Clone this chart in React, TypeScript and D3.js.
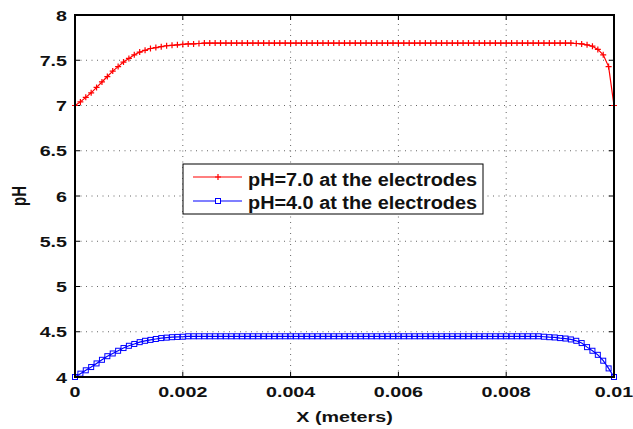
import React from "react";
import * as d3 from "d3";

const xTicks = [0, 0.002, 0.004, 0.006, 0.008, 0.01];
const xTickLabels = ["0", "0.002", "0.004", "0.006", "0.008", "0.01"];
const yTicks = [4, 4.5, 5, 5.5, 6, 6.5, 7, 7.5, 8];
const yTickLabels = ["4", "4.5", "5", "5.5", "6", "6.5", "7", "7.5", "8"];
const xStep = 0.0001;

const seriesNames = ["pH=7.0 at the electrodes", "pH=4.0 at the electrodes"];

const ph7 = [
  7.0, 7.04, 7.09, 7.14, 7.2, 7.26, 7.32, 7.38, 7.43, 7.48,
  7.52, 7.56, 7.59, 7.61, 7.63, 7.64, 7.65, 7.66, 7.665, 7.67,
  7.675, 7.68, 7.68, 7.685,
  7.69, 7.69, 7.69, 7.69, 7.69, 7.69, 7.69, 7.69, 7.69, 7.69,
  7.69, 7.69, 7.69, 7.69, 7.69, 7.69, 7.69, 7.69, 7.69, 7.69,
  7.69, 7.69, 7.69, 7.69, 7.69, 7.69, 7.69, 7.69, 7.69, 7.69,
  7.69, 7.69, 7.69, 7.69, 7.69, 7.69, 7.69, 7.69, 7.69, 7.69,
  7.69, 7.69, 7.69, 7.69, 7.69, 7.69, 7.69, 7.69, 7.69, 7.69,
  7.69, 7.69, 7.69, 7.69, 7.69, 7.69, 7.69, 7.69, 7.69, 7.69,
  7.69, 7.69, 7.69, 7.69, 7.69, 7.69, 7.69, 7.69, 7.69,
  7.685, 7.68, 7.67, 7.655, 7.62, 7.56, 7.43, 7.0,
];

const ph4 = [
  4.0, 4.037, 4.074, 4.11, 4.15, 4.19, 4.23, 4.26, 4.29, 4.32,
  4.345, 4.365, 4.385, 4.4, 4.41, 4.42, 4.43, 4.435, 4.44, 4.443,
  4.445,
  4.45, 4.45, 4.45, 4.45, 4.45, 4.45, 4.45, 4.45, 4.45, 4.45,
  4.45, 4.45, 4.45, 4.45, 4.45, 4.45, 4.45, 4.45, 4.45, 4.45,
  4.45, 4.45, 4.45, 4.45, 4.45, 4.45, 4.45, 4.45, 4.45, 4.45,
  4.45, 4.45, 4.45, 4.45, 4.45, 4.45, 4.45, 4.45, 4.45, 4.45,
  4.45, 4.45, 4.45, 4.45, 4.45, 4.45, 4.45, 4.45, 4.45, 4.45,
  4.45, 4.45, 4.45, 4.45, 4.45, 4.45, 4.45, 4.45, 4.45, 4.45,
  4.45, 4.45, 4.45, 4.45, 4.45, 4.45,
  4.445, 4.44, 4.437, 4.43, 4.425, 4.415, 4.4, 4.375, 4.33, 4.29,
  4.245, 4.18, 4.095, 4.0,
];

const W = 633;
const H = 429;
const M = { left: 75, right: 19, top: 15, bottom: 52 };
const font = "'Liberation Sans', Arial, Helvetica, sans-serif";
const SX = 1.27;

function SText(props: { x: number; y: number; anchor?: string; size: number; sx?: number; rotate?: number; children: any }) {
  const { x, y, anchor = "start", size, sx = SX, rotate = 0, children } = props;
  return (
    <g transform={`translate(${x},${y}) scale(${sx},1)${rotate ? ` rotate(${rotate})` : ""}`}>
      <text x={0} y={0} textAnchor={anchor} fontFamily={font} fontWeight="bold" fontSize={size} fill="#111">
        {children}
      </text>
    </g>
  );
}

export default function App() {
  const x = d3.scaleLinear().domain([0, 0.01]).range([M.left, W - M.right]);
  const y = d3.scaleLinear().domain([4, 8]).range([H - M.bottom, M.top]);
  const x0 = M.left, x1 = W - M.right, y0 = H - M.bottom, y1 = M.top;

  const toPts = (vals: number[]) => vals.map((v, i) => [x(i * xStep), y(v)] as [number, number]);
  const redPts = toPts(ph7);
  const bluePts = toPts(ph4);
  const line = d3.line<[number, number]>().x((d) => d[0]).y((d) => d[1]);

  const lx = 183, ly = 164, lw = 300, lh = 50;

  return (
    <svg width={W} height={H} style={{ position: "absolute", left: 0, top: 0, background: "#fff" }}>
      <rect x={0} y={0} width={W} height={H} fill="#fff" />
      {/* grid */}
      {xTicks.slice(1, -1).map((t) => (
        <line key={"gx" + t} x1={x(t)} x2={x(t)} y1={y0} y2={y1} stroke="#666" strokeWidth={1} strokeDasharray="1,4.5" />
      ))}
      {yTicks.slice(1, -1).map((t) => (
        <line key={"gy" + t} x1={x0} x2={x1} y1={y(t)} y2={y(t)} stroke="#666" strokeWidth={1} strokeDasharray="1,4.5" />
      ))}
      {/* ticks */}
      {xTicks.map((t) => (
        <g key={"tx" + t}>
          <line x1={x(t)} x2={x(t)} y1={y0} y2={y0 - 5} stroke="#000" strokeWidth={1} />
          <line x1={x(t)} x2={x(t)} y1={y1} y2={y1 + 5} stroke="#000" strokeWidth={1} />
        </g>
      ))}
      {yTicks.map((t) => (
        <g key={"ty" + t}>
          <line x1={x0} x2={x0 + 5} y1={y(t)} y2={y(t)} stroke="#000" strokeWidth={1} />
          <line x1={x1} x2={x1 - 5} y1={y(t)} y2={y(t)} stroke="#000" strokeWidth={1} />
        </g>
      ))}
      {/* series */}
      <path d={line(redPts) || ""} fill="none" stroke="#ff0000" strokeWidth={1.2} />
      {redPts.map((p, i) => (
        <path key={"r" + i} d={`M${p[0] - 3},${p[1]}H${p[0] + 3}M${p[0]},${p[1] - 3}V${p[1] + 3}`} stroke="#ff0000" strokeWidth={1.2} fill="none" />
      ))}
      <path d={line(bluePts) || ""} fill="none" stroke="#0000ff" strokeWidth={1.2} />
      {bluePts.map((p, i) => (
        <rect key={"b" + i} x={p[0] - 2.5} y={p[1] - 2.5} width={5} height={5} stroke="#0000ff" strokeWidth={1} fill="none" />
      ))}
      {/* frame */}
      <rect x={x0} y={y1} width={x1 - x0} height={y0 - y1} fill="none" stroke="#000" strokeWidth={2} />
      {/* tick labels */}
      {xTicks.map((t, i) => (
        <SText key={"lx" + t} x={x(t)} y={397} anchor="middle" size={15.5}>
          {xTickLabels[i]}
        </SText>
      ))}
      {yTicks.map((t, i) => (
        <SText key={"ly" + t} x={67} y={y(t) + 5.7} anchor="end" size={15.5}>
          {yTickLabels[i]}
        </SText>
      ))}
      <SText x={(x0 + x1) / 2} y={422} anchor="middle" size={14.5} sx={1.36}>
        X (meters)
      </SText>
      <SText x={26} y={(y0 + y1) / 2} anchor="middle" size={15} sx={1.3} rotate={-90}>
        pH
      </SText>
      {/* legend */}
      <rect x={lx} y={ly} width={lw} height={lh} fill="#fff" stroke="#000" strokeWidth={1} />
      <line x1={lx + 10} x2={lx + 59} y1={ly + 13} y2={ly + 13} stroke="#ff0000" strokeWidth={1.2} />
      <path d={`M${lx + 35 - 3},${ly + 13}H${lx + 35 + 3}M${lx + 35},${ly + 10}V${ly + 16}`} stroke="#ff0000" strokeWidth={1.2} />
      <line x1={lx + 10} x2={lx + 59} y1={ly + 37} y2={ly + 37} stroke="#0000ff" strokeWidth={1.2} />
      <rect x={lx + 35 - 2.5} y={ly + 37 - 2.5} width={5} height={5} stroke="#0000ff" fill="#fff" strokeWidth={1} />
      <text x={lx + 65} y={ly + 22} fontFamily={font} fontWeight="bold" fontSize={18} fill="#111" textLength={229} lengthAdjust="spacingAndGlyphs">
        {seriesNames[0]}
      </text>
      <text x={lx + 65} y={ly + 45} fontFamily={font} fontWeight="bold" fontSize={18} fill="#111" textLength={229} lengthAdjust="spacingAndGlyphs">
        {seriesNames[1]}
      </text>
    </svg>
  );
}
